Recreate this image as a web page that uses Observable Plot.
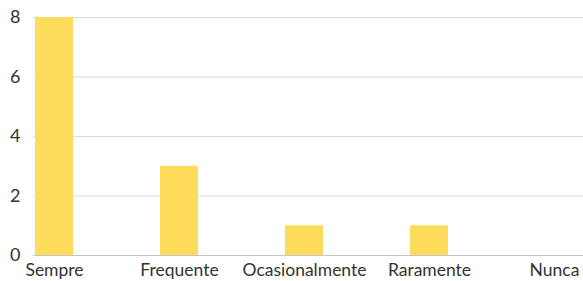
<!DOCTYPE html>
<html>
<head>
<meta charset="utf-8">
<script src="https://cdn.jsdelivr.net/npm/d3@7"></script>
<script src="https://cdn.jsdelivr.net/npm/@observablehq/plot@0.6"></script>
<style>
  html, body { margin: 0; padding: 0; background: #fff; }
  #chart svg { display: block; }
</style>
</head>
<body>
<div id="chart"></div>
<script>
const categories = ["Sempre", "Frequente", "Ocasionalmente", "Raramente", "Nunca"];
const values = [8, 3, 1, 1, 0];
const yTicks = [0, 2, 4, 6, 8];

const data = categories.map((c, i) => ({ category: c, value: values[i] }));

const chart = Plot.plot({
  width: 583,
  height: 281,
  marginTop: 17,
  marginBottom: 26,
  marginLeft: 33,
  marginRight: 0,
  style: { fontFamily: "Lato, sans-serif", fontSize: "18px", color: "#333", background: "#fff", overflow: "visible" },
  x: { domain: categories, range: [33, 575], paddingInner: 0.698, paddingOuter: 0, label: null },
  y: { domain: [0, 8], ticks: yTicks, label: null },
  marks: [
    Plot.gridY(yTicks.filter(d => d > 0), { stroke: "#dcdcdc", strokeOpacity: 1 }),
    Plot.barY(data, { x: "category", y: "value", fill: "#fddc5c" }),
    Plot.ruleY([0], { stroke: "#c4c4c4" }),
    Plot.axisY({ ticks: yTicks, tickSize: 0, tickPadding: 13, fontSize: 18, fill: "#333", label: null }),
    Plot.axisX({ tickSize: 0, tickPadding: 8, fontSize: 17.5, fill: "#333", label: null })
  ]
});
document.getElementById("chart").appendChild(chart);
</script>
</body>
</html>
